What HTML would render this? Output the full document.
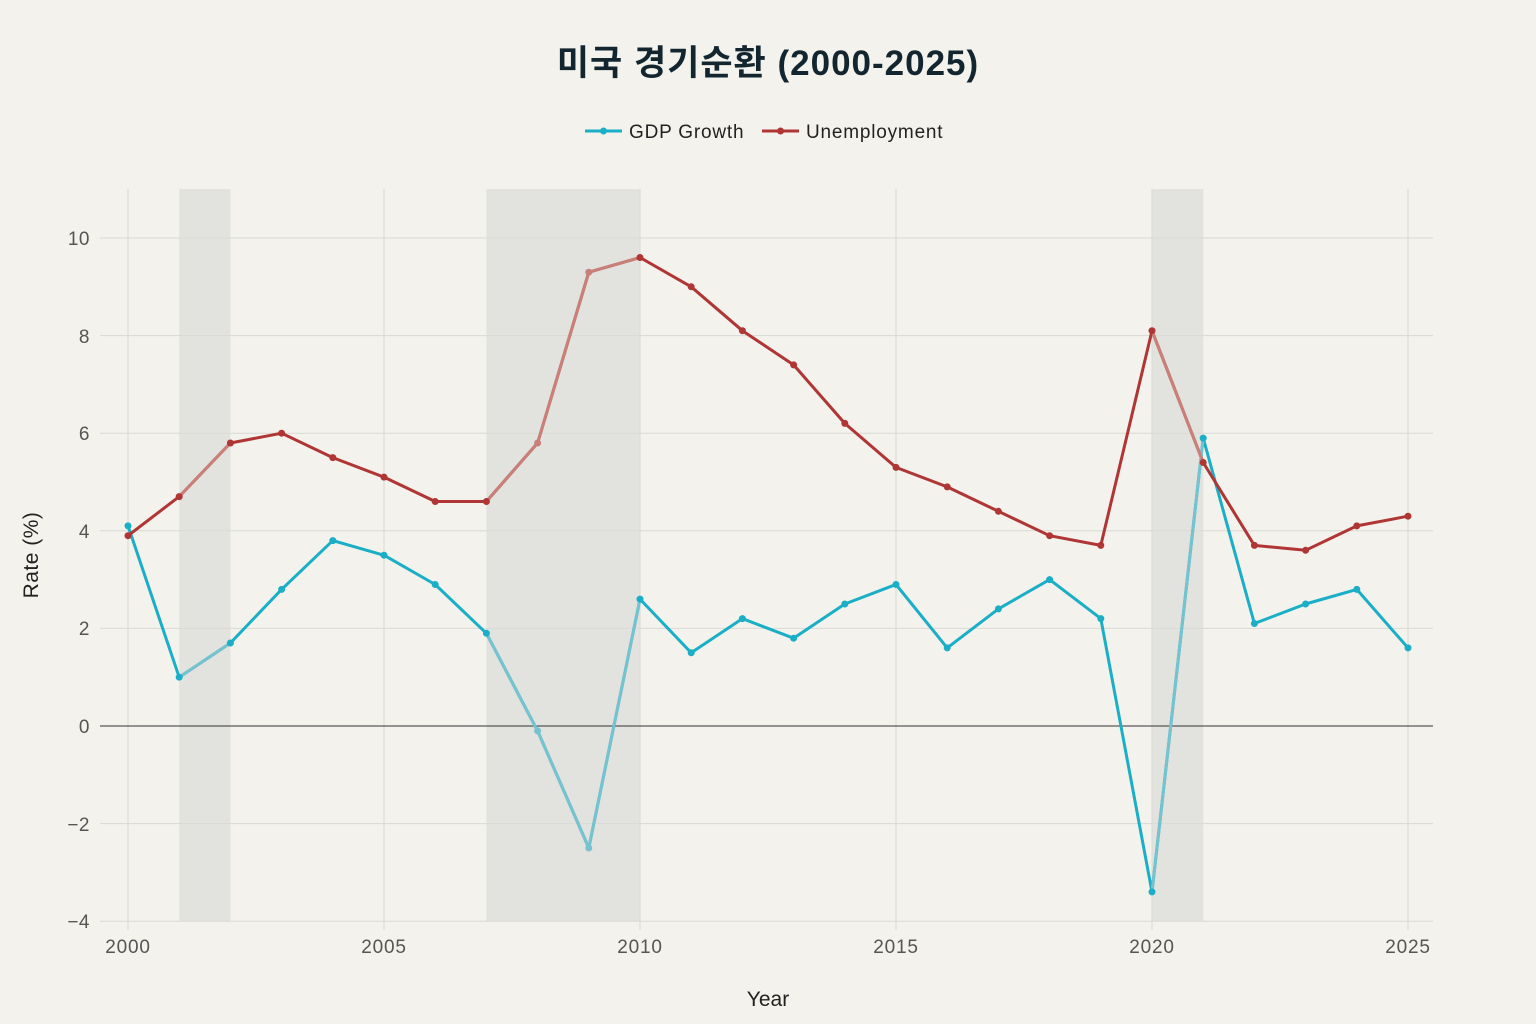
<!DOCTYPE html>
<html><head><meta charset="utf-8"><style>
body{margin:0;background:#f3f2ec;}
svg{display:block;font-family:"Liberation Sans","Noto Sans CJK KR",sans-serif;}
</style></head><body>
<svg width="1536" height="1024" viewBox="0 0 1536 1024">
<rect width="1536" height="1024" fill="#f3f2ec"/>
<text x="768" y="75" text-anchor="middle" font-size="35" font-weight="bold" letter-spacing="1" fill="#13262f">미국 경기순환 (2000-2025)</text>
<g font-size="19" fill="#222" letter-spacing="0.8">
<line x1="585" y1="131" x2="622" y2="131" stroke="#1aafc7" stroke-width="3"/><circle cx="603.5" cy="131" r="3.5" fill="#1aafc7"/>
<text x="629" y="138">GDP Growth</text>
<line x1="762" y1="131" x2="799" y2="131" stroke="#b03535" stroke-width="3"/><circle cx="780.5" cy="131" r="3.5" fill="#b03535"/>
<text x="806" y="138">Unemployment</text>
</g>
<g fill="#e2e2df">
<rect x="179.2" y="189" width="51.2" height="732"/>
<rect x="486.4" y="189" width="153.6" height="732"/>
<rect x="1152" y="189" width="51.2" height="732"/>
</g>
<g stroke="#d9d9d5" stroke-width="1">
<line x1="100" x2="1433" y1="238" y2="238"/><line x1="100" x2="1433" y1="335.6" y2="335.6"/>
<line x1="100" x2="1433" y1="433.2" y2="433.2"/><line x1="100" x2="1433" y1="530.8" y2="530.8"/>
<line x1="100" x2="1433" y1="628.4" y2="628.4"/><line x1="100" x2="1433" y1="823.6" y2="823.6"/>
<line x1="100" x2="1433" y1="921.2" y2="921.2"/>
<line x1="128" x2="128" y1="189" y2="930"/><line x1="384" x2="384" y1="189" y2="930"/>
<line x1="640" x2="640" y1="189" y2="930"/><line x1="896" x2="896" y1="189" y2="930"/>
<line x1="1152" x2="1152" y1="189" y2="930"/><line x1="1408" x2="1408" y1="189" y2="930"/>
</g>
<line x1="100" x2="1433" y1="726" y2="726" stroke="#333" stroke-width="1"/>
<g font-size="19" fill="#555" text-anchor="end" letter-spacing="0.5">
<text x="90" y="245">10</text><text x="90" y="343">8</text><text x="90" y="440">6</text>
<text x="90" y="538">4</text><text x="90" y="635">2</text><text x="90" y="733">0</text>
<text x="90" y="831">−2</text><text x="90" y="928">−4</text>
</g>
<g font-size="19" fill="#555" text-anchor="middle" letter-spacing="0.8">
<text x="128" y="953">2000</text><text x="384" y="953">2005</text><text x="640" y="953">2010</text>
<text x="896" y="953">2015</text><text x="1152" y="953">2020</text><text x="1408" y="953">2025</text>
</g>
<text x="768" y="1006" text-anchor="middle" font-size="21" fill="#222">Year</text>
<text transform="translate(38,555) rotate(-90)" text-anchor="middle" font-size="21" fill="#222" letter-spacing="0.5">Rate (%)</text>
<g fill="none" stroke-width="3" stroke-linejoin="round">
<polyline stroke="#1aafc7" points="128,525.9 179.2,677.2 230.4,643 281.6,589.4 332.8,540.6 384,555.2 435.2,584.5 486.4,633.3 537.6,730.9 588.8,848 640,599.1 691.2,652.8 742.4,618.6 793.6,638.2 844.8,604 896,584.5 947.2,647.9 998.4,608.9 1049.6,579.6 1100.8,618.6 1152,891.9 1203.2,438.1 1254.4,623.5 1305.6,604 1356.8,589.4 1408,647.9"/>
<polyline stroke="#b03535" points="128,535.7 179.2,496.6 230.4,443 281.6,433.2 332.8,457.6 384,477.1 435.2,501.5 486.4,501.5 537.6,443 588.8,272.2 640,257.5 691.2,286.8 742.4,330.7 793.6,364.9 844.8,423.4 896,467.4 947.2,486.9 998.4,511.3 1049.6,535.7 1100.8,545.4 1152,330.7 1203.2,462.5 1254.4,545.4 1305.6,550.3 1356.8,525.9 1408,516.2"/>
<g stroke="#76c3cf">
<polyline points="179.2,677.2 230.4,643"/>
<polyline points="486.4,633.3 537.6,730.9 588.8,848 640,599.1"/>
<polyline points="1152,891.9 1203.2,438.1"/>
</g>
<g stroke="#c98079">
<polyline points="179.2,496.6 230.4,443"/>
<polyline points="486.4,501.5 537.6,443 588.8,272.2 640,257.5"/>
<polyline points="1152,330.7 1203.2,462.5"/>
</g>
</g>
<g fill="#1aafc7">
<circle cx="128" cy="525.9" r="3.5"/><circle cx="179.2" cy="677.2" r="3.5"/><circle cx="230.4" cy="643" r="3.5"/><circle cx="281.6" cy="589.4" r="3.5"/><circle cx="332.8" cy="540.6" r="3.5"/><circle cx="384" cy="555.2" r="3.5"/><circle cx="435.2" cy="584.5" r="3.5"/><circle cx="486.4" cy="633.3" r="3.5"/><circle cx="537.6" cy="730.9" r="3.5" fill="#76c3cf"/><circle cx="588.8" cy="848" r="3.5" fill="#76c3cf"/><circle cx="640" cy="599.1" r="3.5"/><circle cx="691.2" cy="652.8" r="3.5"/><circle cx="742.4" cy="618.6" r="3.5"/><circle cx="793.6" cy="638.2" r="3.5"/><circle cx="844.8" cy="604" r="3.5"/><circle cx="896" cy="584.5" r="3.5"/><circle cx="947.2" cy="647.9" r="3.5"/><circle cx="998.4" cy="608.9" r="3.5"/><circle cx="1049.6" cy="579.6" r="3.5"/><circle cx="1100.8" cy="618.6" r="3.5"/><circle cx="1152" cy="891.9" r="3.5"/><circle cx="1203.2" cy="438.1" r="3.5"/><circle cx="1254.4" cy="623.5" r="3.5"/><circle cx="1305.6" cy="604" r="3.5"/><circle cx="1356.8" cy="589.4" r="3.5"/><circle cx="1408" cy="647.9" r="3.5"/>
</g>
<g fill="#b03535">
<circle cx="128" cy="535.7" r="3.5"/><circle cx="179.2" cy="496.6" r="3.5"/><circle cx="230.4" cy="443" r="3.5"/><circle cx="281.6" cy="433.2" r="3.5"/><circle cx="332.8" cy="457.6" r="3.5"/><circle cx="384" cy="477.1" r="3.5"/><circle cx="435.2" cy="501.5" r="3.5"/><circle cx="486.4" cy="501.5" r="3.5"/><circle cx="537.6" cy="443" r="3.5" fill="#c98079"/><circle cx="588.8" cy="272.2" r="3.5" fill="#c98079"/><circle cx="640" cy="257.5" r="3.5"/><circle cx="691.2" cy="286.8" r="3.5"/><circle cx="742.4" cy="330.7" r="3.5"/><circle cx="793.6" cy="364.9" r="3.5"/><circle cx="844.8" cy="423.4" r="3.5"/><circle cx="896" cy="467.4" r="3.5"/><circle cx="947.2" cy="486.9" r="3.5"/><circle cx="998.4" cy="511.3" r="3.5"/><circle cx="1049.6" cy="535.7" r="3.5"/><circle cx="1100.8" cy="545.4" r="3.5"/><circle cx="1152" cy="330.7" r="3.5"/><circle cx="1203.2" cy="462.5" r="3.5"/><circle cx="1254.4" cy="545.4" r="3.5"/><circle cx="1305.6" cy="550.3" r="3.5"/><circle cx="1356.8" cy="525.9" r="3.5"/><circle cx="1408" cy="516.2" r="3.5"/>
</g>
</svg>
</body></html>
